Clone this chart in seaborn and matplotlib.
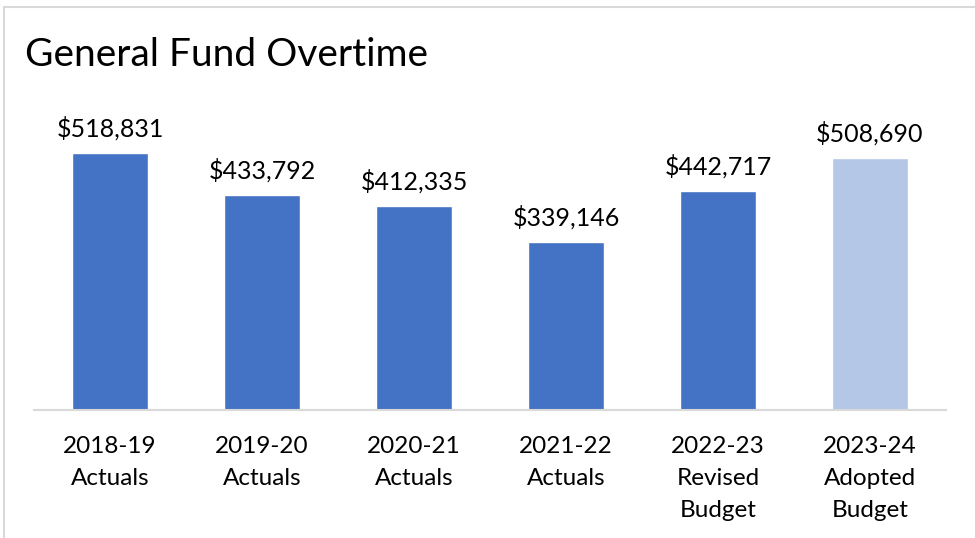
import matplotlib
matplotlib.use("Agg")
import matplotlib.pyplot as plt
import seaborn as sns
import pandas as pd
from matplotlib.patches import Rectangle

categories = ["2018-19\nActuals", "2019-20\nActuals", "2020-21\nActuals",
              "2021-22\nActuals", "2022-23\nRevised\nBudget", "2023-24\nAdopted\nBudget"]
values = [518831, 433792, 412335, 339146, 442717, 508690]
kinds = ["Actual", "Actual", "Actual", "Actual", "Actual", "Adopted"]
colors = {"Actual": "#4472C4", "Adopted": "#B4C7E7"}

df = pd.DataFrame({"cat": categories, "val": values, "kind": kinds})

sns.set_theme(style="white")
plt.rcParams['font.family'] = ['Lato', 'DejaVu Sans']

fig = plt.figure(figsize=(9.75, 5.38), dpi=100)
ax = fig.add_axes([34/975, 1-410/538, (946-34)/975, (410-113)/538])
sns.barplot(data=df, x="cat", y="val", hue="kind", palette=colors, width=0.5,
            legend=False, ax=ax, dodge=False, saturation=1)
ax.set_ylim(0, 600000)
ax.set_xlim(-0.5, 5.5)
ax.set_xlabel("")
ax.set_ylabel("")
ax.set_yticks([])
for s in ["top", "left", "right"]:
    ax.spines[s].set_visible(False)
ax.spines["bottom"].set_color("#D9D9D9")
ax.spines["bottom"].set_linewidth(1.5)
ax.tick_params(axis="x", length=0, pad=19, labelsize=17.5, colors="black")
for lbl in ax.get_xticklabels():
    lbl.set_linespacing(1.63)

for i, v in enumerate(values):
    ax.annotate(f"${v:,.0f}", (i, v), xytext=(0, 9), textcoords="offset points",
                ha="center", va="bottom", fontsize=18, color="black")

fig.text(25/975, 1-55/538, "General Fund Overtime", fontsize=28, ha="left", va="center", color="black")
fig.patches.append(Rectangle((4/975, -0.1), 1.2, 1 - 7/538 + 0.1, transform=fig.transFigure,
                             fill=False, edgecolor="#D9D9D9", linewidth=1.5))

fig.savefig("out.png", dpi=100)
